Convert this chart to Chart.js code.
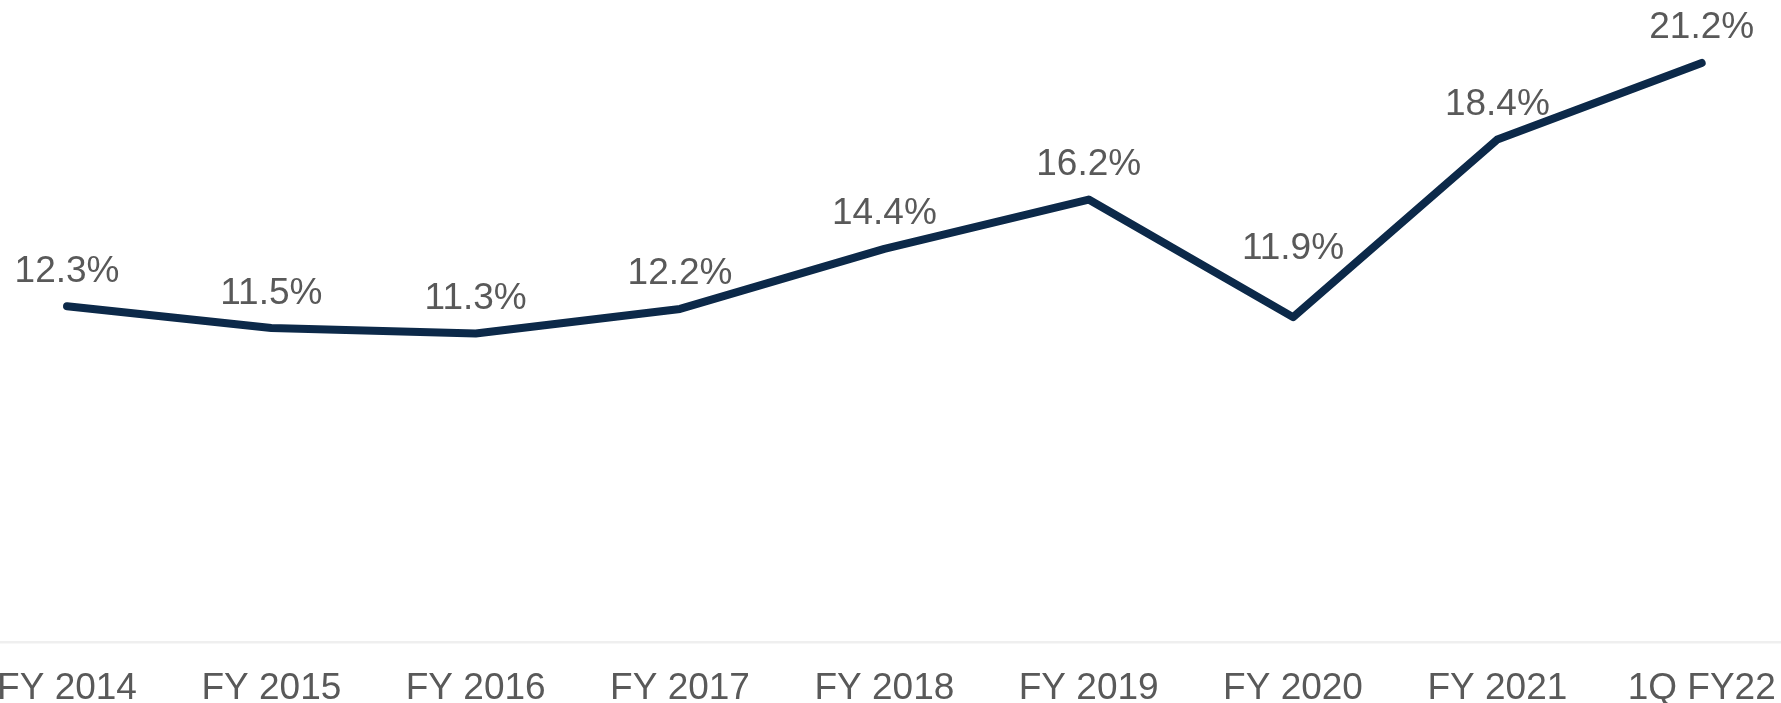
<!DOCTYPE html>
<html>
<head>
<meta charset="utf-8">
<title>Margin trend</title>
<script src="https://cdn.jsdelivr.net/npm/chart.js@4.4.1/dist/chart.umd.min.js"></script>
<style>
  html, body { margin: 0; padding: 0; background: #fff; overflow: hidden; width: 1781px; height: 703px; }
  /* canvas is wider than the window so the first/last category can sit near the edges */
  #wrap { position: absolute; left: -100px; top: 0; width: 1981px; height: 703px; }
</style>
</head>
<body>
<div id="wrap"><canvas id="chart"></canvas></div>
<script>
const categories = ["FY 2014", "FY 2015", "FY 2016", "FY 2017", "FY 2018", "FY 2019", "FY 2020", "FY 2021", "1Q FY22"];
const marginValues = [12.3, 11.5, 11.3, 12.2, 14.4, 16.2, 11.9, 18.4, 21.2];
const valueLabels = marginValues.map((v) => v.toFixed(1) + "%");

const FONT = "'Liberation Sans', Arial, Helvetica, sans-serif";
const TEXT_GREY = "#595959";

// value labels above each point; FY 2020 label sits higher so it clears the dip
const pointLabels = {
  id: "pointLabels",
  afterDatasetsDraw(chart, args, opts) {
    const ctx = chart.ctx;
    const meta = chart.getDatasetMeta(0);
    ctx.save();
    ctx.font = opts.size + "px " + FONT;
    ctx.fillStyle = TEXT_GREY;
    ctx.textAlign = "center";
    ctx.textBaseline = "alphabetic";
    meta.data.forEach((pt, i) => {
      const lift = opts.lift + (opts.extraLift[i] || 0);
      ctx.fillText(valueLabels[i], pt.x, pt.y - lift);
    });
    ctx.restore();
  },
};

new Chart(document.getElementById("chart"), {
  type: "line",
  data: {
    labels: categories,
    datasets: [{
      data: marginValues,
      borderColor: "#0c2949",
      borderWidth: 8,
      borderCapStyle: "round",
      borderJoinStyle: "round",
      pointRadius: 0,
      pointHoverRadius: 0,
      fill: false,
      tension: 0,
    }],
  },
  options: {
    responsive: true,
    maintainAspectRatio: false,
    animation: false,
    events: [],
    layout: { padding: { left: 64.85, right: 77.15, top: 0, bottom: 0 } },
    plugins: {
      legend: { display: false },
      tooltip: { enabled: false },
      pointLabels: { size: 37, lift: 24.5, extraLift: { 6: 34 } },
    },
    scales: {
      x: {
        offset: true,
        grid: { display: false, drawTicks: false },
        border: { display: true, color: "#efefef", width: 2.5 },
        ticks: {
          color: TEXT_GREY,
          font: { family: FONT, size: 37 },
          padding: 24,
          maxRotation: 0,
          autoSkip: false,
        },
        afterFit: (s) => { s.height = 60.5; },
      },
      y: {
        display: false,
        min: 0,
        max: 23.5,
      },
    },
  },
  plugins: [pointLabels],
});
</script>
</body>
</html>
